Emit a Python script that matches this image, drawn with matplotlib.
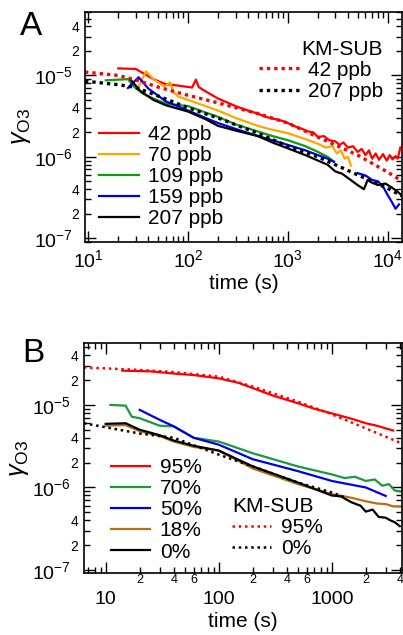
import numpy as np
import matplotlib
matplotlib.use("Agg")
import matplotlib.pyplot as plt
from matplotlib.ticker import LogLocator, FuncFormatter, NullFormatter, LogFormatterSciNotation

plt.rcParams['font.family'] = ['Liberation Sans', 'DejaVu Sans']
plt.rcParams['mathtext.fontset'] = 'custom'
plt.rcParams['mathtext.rm'] = 'Liberation Sans'
plt.rcParams['mathtext.it'] = 'Liberation Sans:italic'

# ---- panel A: ozone concentration series (time s, gamma)
a_t42 = [20, 30, 45, 60, 80, 110, 120, 128, 140, 200, 300, 400, 500, 600, 700, 850, 1000, 1200, 1400,
         1600, 1800, 2000, 2300, 2600, 3000, 3300, 3600, 4000, 4500, 5000, 5500, 6000, 6500, 7000,
         7600, 8200, 9000, 9800, 10500, 11200, 12000, 12600, 13000, 13400]
a_g42 = [1.22e-5, 1.2e-5, 9.0e-6, 7.8e-6, 7.5e-6, 7.1e-6, 8.9e-6, 7.2e-6, 6.7e-6, 5.2e-6, 4.2e-6, 3.7e-6,
         3.4e-6, 3.1e-6, 2.95e-6, 2.8e-6, 2.6e-6, 2.35e-6, 2.2e-6, 2.05e-6, 2.0e-6, 1.75e-6, 1.8e-6,
         1.6e-6, 1.55e-6, 1.4e-6, 1.5e-6, 1.3e-6, 1.35e-6, 1.15e-6, 1.25e-6, 1.05e-6, 1.2e-6, 0.95e-6,
         1.1e-6, 0.92e-6, 1.08e-6, 0.9e-6, 1.05e-6, 0.93e-6, 1.02e-6, 0.95e-6, 1.1e-6, 1.3e-6]
a_t70 = [32, 38, 45, 58, 66, 72, 80, 100, 150, 200, 300, 500, 700, 1000, 1500, 2000, 2400, 2800, 3100,
         3400, 3700, 4000, 4300]
a_g70 = [7.3e-6, 1.12e-5, 9.0e-6, 7.3e-6, 8.2e-6, 6.2e-6, 5.5e-6, 5.0e-6, 4.2e-6, 3.7e-6, 3.0e-6, 2.4e-6,
         2.15e-6, 1.95e-6, 1.65e-6, 1.45e-6, 1.3e-6, 1.35e-6, 1.1e-6, 1.2e-6, 0.95e-6, 1.0e-6, 0.78e-6]
a_t109 = [15, 25, 28, 35, 45, 60, 100, 150, 200, 300, 500, 700, 1000, 1500, 2000, 2500, 2900]
a_g109 = [8.7e-6, 9.0e-6, 7.5e-6, 6.0e-6, 5.2e-6, 4.5e-6, 4.2e-6, 3.5e-6, 3.1e-6, 2.5e-6, 2.05e-6,
          1.8e-6, 1.6e-6, 1.35e-6, 1.15e-6, 1.0e-6, 0.87e-6]
a_t159 = [25, 32, 40, 60, 100, 150, 200, 300, 500, 700, 1000, 1500, 2000, 2500, 2900,
          None, 5000, 6000, 7000, 8000, 9000, 10000, 11000, 12000, 13000]
a_g159 = [7.0e-6, 9.5e-6, 6.9e-6, 4.8e-6, 3.7e-6, 3.0e-6, 2.6e-6, 2.2e-6, 1.8e-6, 1.6e-6, 1.4e-6,
          1.2e-6, 1.05e-6, 0.95e-6, 0.87e-6,
          None, 6.3e-7, 5.9e-7, 5.2e-7, 5.0e-7, 4.3e-7, 3.4e-7, 2.8e-7, 2.3e-7, 2.6e-7]
a_t207 = [27, 33, 45, 60, 100, 150, 200, 300, 500, 700, 1000, 1500, 2000, 2500, 3000, 3500, 4000,
          5000, 5800, 6300, 7000, 8000, 9500, 11000, 12000, 13000, 14000]
a_g207 = [8.7e-6, 6.5e-6, 5.0e-6, 4.3e-6, 3.6e-6, 2.9e-6, 2.4e-6, 2.1e-6, 1.8e-6, 1.5e-6, 1.27e-6,
          1.05e-6, 0.9e-6, 0.8e-6, 0.66e-6, 0.62e-6, 0.55e-6, 0.45e-6, 0.4e-6, 0.52e-6, 0.48e-6,
          0.45e-6, 0.47e-6, 0.42e-6, 0.39e-6, 0.36e-6, 0.33e-6]
a_km_t = [9.3, 20, 30, 50, 100, 200, 500, 1000, 2000, 5000, 10000, 14000]
a_km42 = [1.1e-5, 1.0e-5, 8.8e-6, 7.2e-6, 5.7e-6, 4.6e-6, 3.4e-6, 2.6e-6, 1.75e-6, 1.05e-6, 6.5e-7, 5.0e-7]
a_km207 = [8.5e-6, 7.7e-6, 7.1e-6, 5.6e-6, 4.0e-6, 3.0e-6, 1.95e-6, 1.35e-6, 1.0e-6, 6.0e-7, 4.1e-7, 3.3e-7]
a_labels = ['42 ppb', '70 ppb', '109 ppb', '159 ppb', '207 ppb']
a_colors = ['#ff0000', '#ffa500', '#119911', '#0000ee', '#000000']

# ---- panel B: relative humidity series
b_t95 = [14, 25, 40, 60, 100, 150, 200, 300, 500, 700, 1000, 1500, 2000, 2500, 3000, 3500]
b_g95 = [2.6e-5, 2.55e-5, 2.4e-5, 2.3e-5, 2.1e-5, 1.85e-5, 1.6e-5, 1.3e-5, 1.05e-5, 9.0e-6, 7.9e-6,
         6.8e-6, 6.0e-6, 5.6e-6, 5.2e-6, 4.9e-6]
b_t70 = [11, 15, 17, 20, 30, 40, 60, 100, 200, 500, 1000, 1300, 1600, 2000, 2400, 2800, 3200, 3600, 4000]
b_g70 = [1.0e-5, 9.8e-6, 7.2e-6, 6.9e-6, 5.6e-6, 5.5e-6, 4.0e-6, 3.6e-6, 2.6e-6, 1.8e-6, 1.44e-6,
         1.3e-6, 1.35e-6, 1.2e-6, 1.25e-6, 1.05e-6, 1.1e-6, 0.92e-6, 0.9e-6]
b_t50 = [20, 30, 40, 60, 100, 200, 500, 1000, 2000, 3000]
b_g50 = [8.7e-6, 6.6e-6, 5.5e-6, 4.0e-6, 3.3e-6, 2.2e-6, 1.58e-6, 1.2e-6, 1.0e-6, 0.79e-6]
b_t18 = [10, 15, 20, 30, 40, 60, 100, 200, 500, 1000, 1500, 2000, 2500, 3000, 3500, 4000]
b_g18 = [5.6e-6, 5.7e-6, 4.8e-6, 4.2e-6, 3.6e-6, 3.1e-6, 2.8e-6, 1.7e-6, 1.1e-6, 8.3e-7, 7.5e-7,
         6.8e-7, 6.4e-7, 6.3e-7, 5.9e-7, 5.9e-7]
b_t0 = [10, 15, 20, 30, 40, 60, 100, 200, 500, 1000, 1200, 1500, 1800, 2000, 2300, 2600, 3000,
        3300, 3600, 4000]
b_g0 = [5.9e-6, 6.0e-6, 5.0e-6, 4.3e-6, 3.7e-6, 3.2e-6, 2.8e-6, 1.8e-6, 1.15e-6, 8.0e-7, 7.8e-7,
        6.6e-7, 6.0e-7, 5.1e-7, 5.4e-7, 4.4e-7, 4.3e-7, 4.0e-7, 3.8e-7, 3.4e-7]
b_km_t = [6.4, 20, 40, 100, 200, 500, 1000, 2000, 4200]
b_km95 = [2.85e-5, 2.65e-5, 2.5e-5, 2.2e-5, 1.67e-5, 1.1e-5, 7.7e-6, 5.2e-6, 3.4e-6]
b_km0_t = [6.4, 20, 40, 100, 200, 500, 1000, 1300]
b_km0 = [6.0e-6, 4.5e-6, 4.0e-6, 2.5e-6, 1.8e-6, 1.15e-6, 8.7e-7, 7.6e-7]
b_labels = ['95%', '70%', '50%', '18%', '0%']
b_colors = ['#ff0000', '#1a9a3a', '#0000ee', '#b8700f', '#000000']


def minor_fmt(digits):
    def f(v, pos):
        m = v / 10 ** np.floor(np.log10(v) + 1e-9)
        k = int(round(m))
        return str(k) if k in digits and abs(m - k) < 0.01 else ''
    return FuncFormatter(f)


def style_axes(ax, xmajor_fmt, xminor_fmt):
    ax.set_xscale('log')
    ax.set_yscale('log')
    ax.tick_params(which='both', direction='in', top=True, right=True, width=1)
    ax.tick_params(which='major', length=8)
    ax.tick_params(which='minor', length=4)
    ax.tick_params(axis='y', which='major', labelsize=14, pad=9)
    ax.tick_params(axis='y', which='minor', labelsize=10, pad=4)
    ax.yaxis.set_major_locator(LogLocator(base=10, numticks=20))
    ax.yaxis.set_minor_locator(LogLocator(base=10, subs=np.arange(2, 10), numticks=20))
    ax.yaxis.set_major_formatter(LogFormatterSciNotation())
    ax.yaxis.set_minor_formatter(minor_fmt([2, 4]))
    ax.xaxis.set_major_locator(LogLocator(base=10, numticks=20))
    ax.xaxis.set_minor_locator(LogLocator(base=10, subs=np.arange(2, 10), numticks=20))
    ax.xaxis.set_major_formatter(xmajor_fmt)
    ax.xaxis.set_minor_formatter(xminor_fmt)
    for s in ax.spines.values():
        s.set_linewidth(1.2)
    ax.set_ylabel(r'$\gamma_{\mathrm{O3}}$', fontsize=18)
    ax.yaxis.set_label_coords(-0.165, 0.5)
    ax.set_xlabel('time (s)', fontsize=15, labelpad=2)


fig = plt.figure(figsize=(4.03, 6.35), dpi=100)
leg_kw = dict(frameon=False, fontsize=15, handlelength=1.9, handletextpad=0.45,
              labelspacing=0.1, borderaxespad=0, borderpad=0)

# ---- panel A
axA = fig.add_axes([0.211, 0.619, 0.787, 0.362])
series_a = [(a_t42, a_g42), (a_t70, a_g70), (a_t109, a_g109), (a_t159, a_g159), (a_t207, a_g207)]
hA = []
for (t, g), c, lab in zip(series_a, a_colors, a_labels):
    t = np.array([np.nan if v is None else v for v in t], dtype=float)
    g = np.array([np.nan if v is None else v for v in g], dtype=float)
    h, = axA.plot(t, g, color=c, lw=1.6, label=lab)
    hA.append(h)
k1, = axA.plot(a_km_t, a_km42, color='#ff0000', ls=(0, (1, 1.2)), lw=2.4, label='42 ppb')
k2, = axA.plot(a_km_t, a_km207, color='#000000', ls=(0, (1, 1.2)), lw=2.4, label='207 ppb')
style_axes(axA, LogFormatterSciNotation(), NullFormatter())
axA.tick_params(axis='x', which='major', labelsize=14, pad=5)
axA.set_xlim(9.3, 1.4e4)
axA.set_ylim(9e-8, 6e-5)
legA = axA.legend(handles=hA, loc='lower left', bbox_to_anchor=(0.045, 0.06), **leg_kw)
axA.add_artist(legA)
axA.legend(handles=[k1, k2], loc='upper right', bbox_to_anchor=(0.94, 0.88),
           title='KM-SUB', title_fontsize=15, alignment='right', **leg_kw)
fig.text(0.05, 0.945, 'A', fontsize=24)

# ---- panel B
axB = fig.add_axes([0.208, 0.0976, 0.79, 0.362])
series_b = [(b_t95, b_g95), (b_t70, b_g70), (b_t50, b_g50), (b_t18, b_g18), (b_t0, b_g0)]
hB = []
for (t, g), c, lab in zip(series_b, b_colors, b_labels):
    h, = axB.plot(t, g, color=c, lw=1.6, label=lab)
    hB.append(h)
m1, = axB.plot(b_km_t, b_km95, color='#ff0000', ls=(0, (1, 1.5)), lw=1.8, label='95%')
m2, = axB.plot(b_km0_t, b_km0, color='#000000', ls=(0, (1, 1.5)), lw=1.8, label='0%')
style_axes(axB, FuncFormatter(lambda v, p: f'{v:g}'), minor_fmt([2, 4, 6]))
axB.tick_params(axis='x', which='major', labelsize=14, pad=13)
axB.tick_params(axis='x', which='minor', labelsize=9, pad=1)
axB.xaxis.labelpad = 3
axB.set_xlim(6.4, 4200)
axB.set_ylim(9.2e-8, 5.6e-5)
legB = axB.legend(handles=hB, loc='lower left', bbox_to_anchor=(0.085, 0.05), **leg_kw)
axB.add_artist(legB)
axB.legend(handles=[m1, m2], loc='lower left', bbox_to_anchor=(0.465, 0.065),
           title='KM-SUB', title_fontsize=15, alignment='left', **leg_kw)
fig.text(0.055, 0.43, 'B', fontsize=24)

fig.savefig('out.png', dpi=100)
